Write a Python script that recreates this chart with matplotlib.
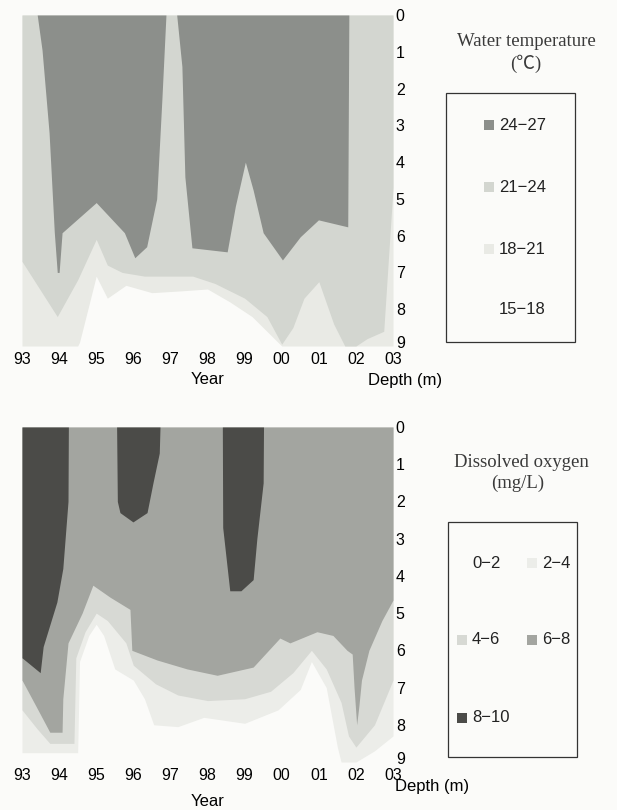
import numpy as np
import matplotlib.pyplot as plt
from matplotlib.patches import Rectangle
from matplotlib.transforms import ScaledTranslation

# ---- data (x in years since 1900, depth in m) ----
years = list(range(93, 104))
year_labels = ['93', '94', '95', '96', '97', '98', '99', '00', '01', '02', '03']
depths = list(range(0, 10))

# water temperature: bottom depth of each class (isotherm depths)
wt_x_2427 = [93.0, 93.41, 93.54, 93.73, 93.87, 93.95, 94.0, 94.08, 95.0, 95.76, 96.04, 96.36,
             96.63, 96.77, 96.88, 97.17, 97.31, 97.39, 97.58, 98.53, 98.75, 99.02, 99.23,
             99.5, 100.02, 100.5, 100.99, 101.78, 101.81, 103.0]
wt_d_2427 = [0, 0, 0.95, 3.2, 5.9, 7.0, 7.0, 5.92, 5.1, 5.92, 6.6, 6.3,
             5.0, 2.3, 0, 0, 1.4, 4.4, 6.33, 6.44, 5.2, 4.0, 4.76,
             5.92, 6.66, 6.03, 5.57, 5.76, 0, 0]
wt_x_2124 = [93.0, 93.95, 94.5, 95.0, 95.3, 95.7, 96.3, 97.0, 97.6, 98.2, 99.0, 99.6,
             100.0, 100.3, 100.6, 101.0, 101.4, 101.7, 102.0, 102.3, 102.75, 103.0]
wt_d_2124 = [6.7, 8.2, 7.2, 6.1, 6.8, 7.0, 7.1, 7.1, 7.1, 7.3, 7.7, 8.2,
             8.95, 8.5, 7.7, 7.25, 8.4, 9.0, 9.0, 8.8, 8.6, 4.7]
wt_x_1821 = [93.0, 94.5, 94.55, 95.0, 95.3, 95.8, 96.5, 97.3, 98.0, 98.6, 99.2, 100.0, 103.0]
wt_d_1821 = [9.0, 9.0, 8.9, 7.1, 7.7, 7.35, 7.55, 7.5, 7.45, 7.8, 8.2, 9.0, 9.0]

# dissolved oxygen: bottom depth of each class
do_x_810 = [93.0, 93.49, 93.57, 93.94, 94.1, 94.24, 94.25, 95.55, 95.57, 95.64, 95.99,
            96.37, 96.53, 96.7, 96.72, 98.4, 98.41, 98.6, 98.9, 99.23, 99.33, 99.5,
            99.51, 103.0]
do_d_810 = [6.2, 6.6, 5.9, 4.7, 3.8, 2.0, 0, 0, 2.0, 2.3, 2.55,
            2.3, 1.5, 0.7, 0, 0, 2.7, 4.4, 4.4, 4.1, 3.0, 1.5,
            0, 0]
do_x_68 = [93.0, 93.43, 93.75, 94.08, 94.1, 94.24, 94.62, 94.91, 95.37, 95.91, 95.96,
           96.64, 97.45, 98.26, 99.23, 99.95, 100.22, 100.95, 101.38, 101.76, 101.9,
           101.95, 102.02, 102.08, 102.15, 102.35, 102.7, 103.0]
do_d_68 = [6.8, 7.6, 8.2, 8.2, 7.3, 5.8, 5.0, 4.25, 4.57, 4.9, 6.0,
           6.26, 6.5, 6.67, 6.45, 5.67, 5.8, 5.5, 5.6, 6.0, 6.1,
           7.0, 8.0, 7.5, 6.8, 6.0, 5.2, 4.65]
do_x_46 = [93.0, 93.4, 93.75, 94.1, 94.4, 94.45, 94.7, 95.0, 95.3, 95.8, 96.0, 96.6,
           97.2, 98.0, 99.0, 99.7, 100.3, 100.8, 101.2, 101.6, 101.8, 102.0, 102.5, 103.0]
do_d_46 = [7.6, 8.1, 8.5, 8.5, 8.5, 6.2, 5.5, 5.0, 5.2, 5.8, 6.4, 6.9,
           7.2, 7.35, 7.3, 7.1, 6.6, 6.0, 6.5, 7.4, 8.3, 8.6, 8.0, 6.8]
do_x_24 = [93.0, 94.5, 94.55, 94.8, 95.0, 95.2, 95.5, 96.0, 96.3, 96.55, 97.2, 97.9,
           99.0, 99.9, 100.5, 100.8, 101.2, 101.5, 101.6, 102.0, 102.5, 103.0]
do_d_24 = [8.75, 8.75, 6.3, 5.6, 5.3, 5.6, 6.5, 6.8, 7.3, 8.0, 8.05, 7.8,
           7.96, 7.6, 7.05, 6.3, 7.0, 8.6, 9.0, 9.0, 8.7, 8.3]

wt_labels = ['24−27', '21−24', '18−21', '15−18']
wt_colors = ['#8c8f8b', '#d3d6d0', '#e9eae5', '#fbfbf9']
do_labels = ['8−10', '6−8', '4−6', '2−4', '0−2']
do_colors = ['#4b4b48', '#a3a5a0', '#d7d9d4', '#ecede9', '#fbfbf9']

BG = '#fbfbf9'
SANS = ['Liberation Sans', 'DejaVu Sans']
SERIF = ['Liberation Serif', 'Noto Sans CJK JP', 'DejaVu Serif']

fig = plt.figure(figsize=(6.17, 8.10), dpi=100)
fig.patch.set_facecolor(BG)


def draw_panel(ax, layers, colors):
    # paint from the deepest boundary up, each from the surface down
    ax.set_facecolor(colors[-1])
    for (x, d), c in zip(reversed(layers), reversed(colors[:-1])):
        ax.fill_between(x, 0, d, color=c, linewidth=0)
    ax.set_xlim(93, 103)
    ax.set_ylim(9, 0)
    ax.set_xticks(years)
    ax.set_xticklabels(year_labels, fontsize=11.5, family=SANS)
    ax.yaxis.tick_right()
    ax.set_yticks(depths)
    ax.set_yticklabels([str(v) for v in depths], fontsize=11.5, family=SANS)
    ax.tick_params(length=0, pad=2)
    ax.tick_params(axis='x', pad=4)
    # the deepest label sits a little higher, just above "03"
    last = ax.get_yticklabels()[-1]
    last.set_transform(last.get_transform() + ScaledTranslation(0, 3 / 72, fig.dpi_scale_trans))
    for s in ax.spines.values():
        s.set_visible(False)


def px_box(l, t, r, b):
    return [l / 617, 1 - b / 810, (r - l) / 617, (b - t) / 810]


ax1 = fig.add_axes(px_box(22, 15, 393, 346))
draw_panel(ax1, [(wt_x_2427, wt_d_2427), (wt_x_2124, wt_d_2124), (wt_x_1821, wt_d_1821)],
           wt_colors)
ax2 = fig.add_axes(px_box(22, 427, 393, 762))
draw_panel(ax2, [(do_x_810, do_d_810), (do_x_68, do_d_68), (do_x_46, do_d_46),
                 (do_x_24, do_d_24)], do_colors)

fig.text(208 / 617, 1 - 380 / 810, 'Year', ha='center', va='center', fontsize=12, family=SANS)
fig.text(368 / 617, 1 - 380 / 810, 'Depth (m)', ha='left', va='center', fontsize=12, family=SANS)
fig.text(208 / 617, 1 - 801 / 810, 'Year', ha='center', va='center', fontsize=12, family=SANS)
fig.text(395 / 617, 1 - 787 / 810, 'Depth (m)', ha='left', va='center', fontsize=12, family=SANS)

# legends
fig.text(526 / 617, 1 - 42 / 810, 'Water temperature', ha='center', va='center',
         fontsize=13.5, family=SERIF, color='#3a3a3a')
fig.text(526 / 617, 1 - 64 / 810, '(℃)', ha='center', va='center',
         fontsize=13.5, family=SERIF, color='#3a3a3a')
fig.text(521 / 617, 1 - 462 / 810, 'Dissolved oxygen', ha='center', va='center',
         fontsize=13.5, family=SERIF, color='#3a3a3a')
fig.text(518 / 617, 1 - 483 / 810, '(mg/L)', ha='center', va='center',
         fontsize=13.5, family=SERIF, color='#3a3a3a')

fig.patches.append(Rectangle((446 / 617, 1 - 342 / 810), 129 / 617, 249 / 810,
                             transform=fig.transFigure, fill=False, edgecolor='#333333', lw=0.9))
fig.patches.append(Rectangle((448 / 617, 1 - 757 / 810), 129 / 617, 235 / 810,
                             transform=fig.transFigure, fill=False, edgecolor='#333333', lw=0.9))


def legend_item(px, py, color, label):
    fig.patches.append(Rectangle(((px - 10) / 617, 1 - (py + 5) / 810), 10 / 617, 10 / 810,
                                 transform=fig.transFigure, facecolor=color, edgecolor='none'))
    fig.text((px + 5) / 617, 1 - py / 810, label, ha='left', va='center',
             fontsize=12, family=SANS, color='#222222')


for py, c, lab in zip([125, 187, 249, 310], wt_colors, wt_labels):
    legend_item(494, py, c, lab)

do_pos = [(467, 718), (537, 640), (467, 640), (537, 563), (467, 563)]
for (px, py), c, lab in zip(do_pos, do_colors, do_labels):
    legend_item(px, py, c, lab)

fig.savefig('out.png', dpi=100, facecolor=BG)
